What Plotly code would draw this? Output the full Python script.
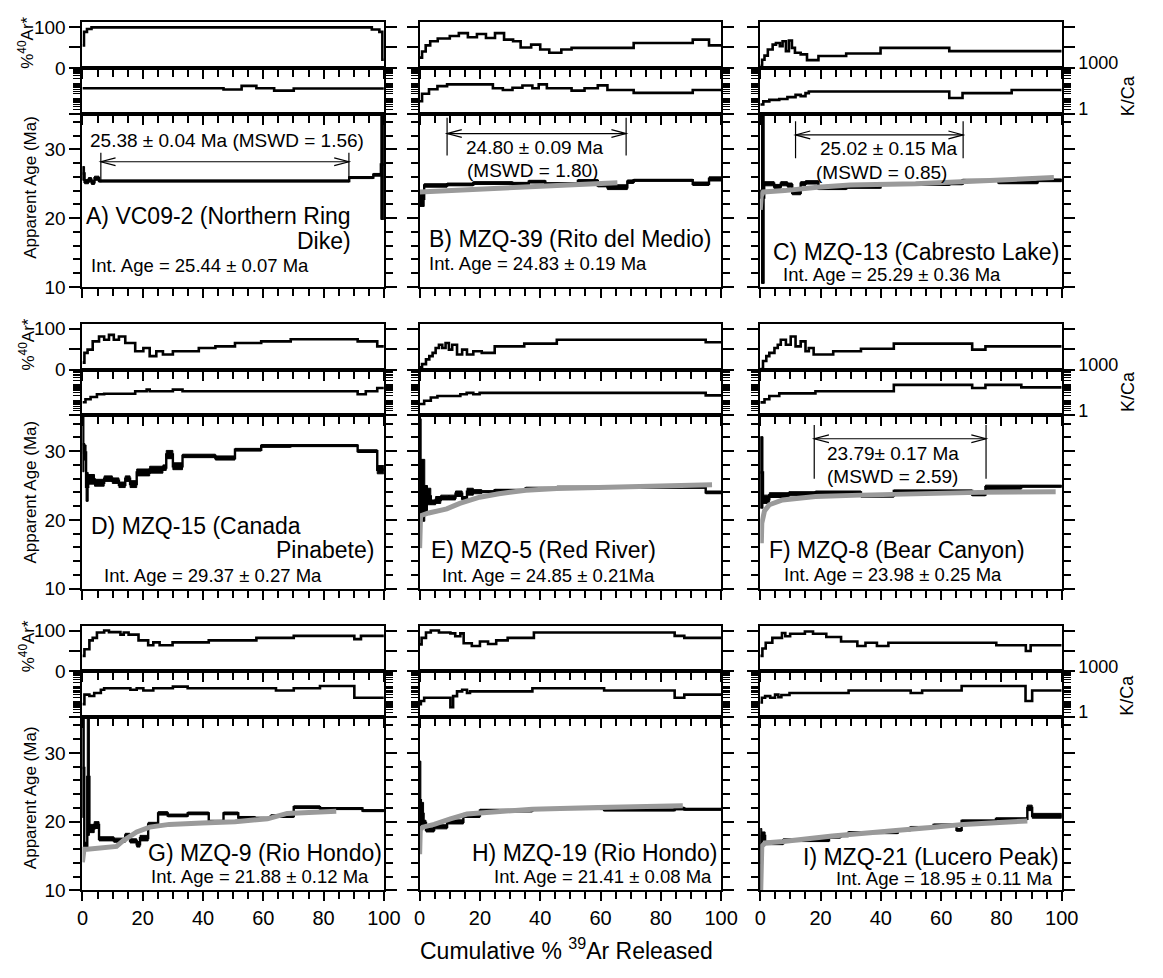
import plotly.graph_objects as go

# ---------------- data ----------------
# each spectrum: cumulative %39Ar at the END of each step, and step values
A_ar_end = [0.5, 1.5, 3, 96, 98.5, 99.5, 100]
A_ar_val = [55, 88, 95, 99, 94, 88, 20]
A_kca_end = [46.8, 52.8, 57.7, 63.6, 70.1, 100]
A_kca_val = [46, 38, 66, 46, 32, 44]
A_age_end = [0.7, 2, 3, 4, 5.5, 88.5, 96.5, 99, 100]
A_age_val = [26.5, 25.3, 25.6, 25.2, 25.8, 25.4, 25.9, 26.3, 27.8]
A_age_err = [1.0, 0.3, 0.3, 0.3, 0.3, 0.15, 0.15, 0.2, 8.0]
A_gray_x, A_gray_y = [], []
A_plateau = [6.1, 88.4, 28.2, 25.2, 29.5]   # x from, x to, arrow age, line low, line high

B_ar_end = [0.8, 2, 3.5, 6, 10, 13, 16, 19, 22, 25, 28, 31, 33.5, 37, 40, 43, 47, 50.4, 71, 90.6, 96, 100]
B_ar_val = [25, 40, 55, 65, 72, 78, 85, 75, 83, 73, 85, 69, 65, 50, 57, 45, 37, 45, 49, 61, 69, 55]
B_kca_end = [0.8, 3.1, 5.9, 9.1, 24.3, 27.6, 30.8, 34.1, 37.4, 39.5, 42.2, 50.4, 54.7, 59.1, 62.3, 71, 90.6, 100]
B_kca_val = [6.5, 20, 40, 63, 83, 46, 35, 50, 69, 46, 83, 46, 32, 46, 71, 35, 23, 35]
B_age_end = [1.5, 9.1, 17.8, 30.8, 36.2, 41.7, 52.5, 59.1, 62.3, 68.9, 71.0, 90.6, 96, 100]
B_age_val = [22.8, 24.75, 24.9, 25.1, 25.0, 25.3, 25.0, 25.4, 24.75, 24.5, 25.3, 25.5, 25.0, 25.7]
B_age_err = [1.1, 0.25, 0.2, 0.2, 0.2, 0.2, 0.15, 0.2, 0.2, 0.35, 0.25, 0.15, 0.25, 0.3]
B_gray_x = [0, 10, 20, 30, 40, 50, 60, 65.6]
B_gray_y = [23.8, 24.0, 24.2, 24.45, 24.65, 24.85, 25.05, 25.15]
B_plateau = [9.1, 68.5, 32.3, 29.1, 34.6]

C_ar_end = [0.6, 1.4, 2.5, 4.1, 5.2, 6.5, 7.4, 8.5, 9.5, 10.5, 11.5, 13.4, 15.5, 19.3, 28.5, 39.9, 62.7, 100]
C_ar_val = [5, 20, 30, 45, 57, 61, 53, 65, 41, 67, 49, 37, 33, 19, 29, 35, 49, 41]
C_kca_end = [1.0, 3.0, 6.3, 9.0, 11.7, 13.4, 15, 16.1, 62.7, 67.1, 83.4, 100]
C_kca_val = [4.0, 6.3, 7.9, 9.1, 12, 17, 14, 22, 28, 10.5, 22, 35]
C_age_end = [0.4, 1.3, 4.6, 6.8, 9.0, 10.6, 13.4, 15.0, 19.3, 28.5, 39.9, 62.7, 67.1, 79, 92, 100]
C_age_val = [23.5, 23.0, 25.0, 24.6, 25.0, 24.8, 23.7, 25.0, 25.2, 24.3, 24.5, 24.9, 25.0, 25.5, 25.2, 25.5]
C_age_err = [0.6, 12.5, 0.3, 0.3, 0.3, 0.3, 0.3, 0.3, 0.25, 0.15, 0.15, 0.15, 0.15, 0.15, 0.2, 0.2]
C_gray_x = [0, 0.3, 1, 8.1, 18.9, 29.8, 51.5, 73.2, 92.4, 97.4]
C_gray_y = [21.2, 23.2, 23.8, 24.0, 24.5, 24.8, 25.0, 25.4, 25.9, 25.9]
C_plateau = [11.7, 67.3, 32.1, 28.7, 34.1]

D_ar_end = [0.65, 1.7, 3.4, 5.5, 7.2, 8.8, 10.4, 12.1, 14.2, 17.5, 20.2, 22.3, 24.5, 26.7, 30, 38.6, 44.1, 50.6, 59.3, 69.1, 91.3, 97.8, 100]
D_ar_val = [17, 41, 49, 69, 81, 73, 85, 73, 81, 65, 45, 53, 33, 45, 37, 45, 53, 57, 65, 69, 74.5, 69, 57]
D_kca_end = [1.0, 2.7, 4.8, 7.2, 17.5, 21.3, 22.3, 30, 33.2, 91.3, 94, 97.8, 100]
D_kca_val = [7.2, 11.5, 16, 24, 26, 38, 49, 38, 49, 38, 24, 38, 62]
D_age_end = [0.5, 1.2, 1.9, 4.0, 7.2, 9.9, 12.1, 14.2, 15.8, 18.0, 22.3, 26.7, 27.8, 30.0, 33.2, 44.1, 50.6, 59.3, 69.1, 91.3, 97.8, 100]
D_age_val = [31.0, 29.8, 24.8, 25.9, 25.4, 26.0, 25.7, 25.1, 26.0, 25.2, 26.9, 27.3, 27.6, 29.5, 27.8, 29.3, 29.0, 30.2, 30.75, 30.8, 30.0, 27.3]
D_age_err = [4.0, 1.1, 2.1, 0.7, 0.5, 0.4, 0.4, 0.4, 0.4, 0.5, 0.5, 0.5, 0.4, 0.6, 0.5, 0.25, 0.3, 0.2, 0.2, 0.15, 0.2, 0.6]
D_gray_x, D_gray_y = [], []
D_plateau = None

E_ar_end = [0.8, 2.1, 3.2, 4.3, 5.3, 6.4, 7.5, 8.6, 9.7, 10.8, 12.4, 14.1, 15.7, 17.8, 20.6, 24.9, 34.7, 45.5, 94.9, 100]
E_ar_val = [5.5, 13.5, 25, 33, 41, 53, 61, 53, 65, 49, 61, 37, 49, 37, 45, 41, 57, 63.5, 73, 67]
E_kca_end = [1.5, 3.7, 5.9, 13.5, 15.6, 17.8, 19.9, 94.9, 100]
E_kca_val = [5.6, 9.1, 14.8, 18.6, 24, 30, 24, 30, 20.4]
E_age_end = [0.5, 1.7, 2.6, 3.7, 5.3, 7.0, 9.7, 11.9, 14.1, 15.7, 17.8, 20.6, 24.9, 35.2, 45.5, 94.9, 100]
E_age_val = [27.3, 24.3, 22.9, 23.4, 22.55, 22.9, 23.25, 23.25, 23.8, 23.1, 24.1, 24.1, 24.1, 24.3, 24.6, 24.75, 24.0]
E_age_err = [7.4, 4.5, 2.1, 1.2, 0.35, 0.5, 0.35, 0.35, 0.4, 0.3, 0.5, 0.3, 0.15, 0.15, 0.15, 0.15, 0.2]
E_gray_x = [0, 0.3, 3, 9, 13.3, 19.9, 26.3, 35.2, 45.5, 69.9, 97]
E_gray_y = [15.9, 20.6, 21.0, 21.6, 22.4, 23.3, 23.8, 24.3, 24.55, 24.8, 25.1]
E_plateau = None

F_ar_end = [0.9, 2.0, 3.0, 4.7, 5.8, 6.8, 8.5, 10.1, 11.7, 13.4, 15.0, 16.1, 17.7, 24.2, 33.4, 44.3, 70.3, 74.7, 100]
F_ar_val = [1.6, 21, 33, 41, 53, 61, 73, 61, 81, 57, 69, 45, 53, 37, 45, 51, 63.5, 49, 57]
F_kca_end = [1.4, 3.0, 6.3, 18.3, 44.3, 70.3, 74.7, 86.6, 100]
F_kca_val = [7.1, 11.5, 18.6, 27.5, 38, 100, 62, 100, 68]
F_age_end = [0.9, 3.0, 9.5, 18.3, 33.4, 44.3, 70.3, 74.7, 86.6, 100]
F_age_val = [26.9, 23.0, 23.6, 23.8, 24.0, 23.5, 24.2, 23.7, 24.75, 24.9]
F_age_err = [5.2, 0.6, 0.35, 0.3, 0.2, 0.2, 0.15, 0.2, 0.3, 0.15]
F_gray_x = [0.35, 0.5, 1.4, 3.0, 7.4, 18.3, 33.4, 50.8, 72.5, 98]
F_gray_y = [16.6, 19.5, 21.3, 22.2, 22.9, 23.4, 23.6, 23.8, 24.0, 24.1]
F_plateau = [17.9, 74.9, 31.8, 26.0, 33.8]

G_ar_end = [0.65, 2.3, 3.4, 4.8, 7.2, 8.8, 12.6, 13.7, 15.3, 18.6, 21.8, 23.5, 25.6, 29.9, 41.9, 57.7, 70.1, 90.2, 92.4, 100]
G_ar_val = [38, 54, 76, 82, 95, 100, 96, 90, 95, 90, 76, 64, 71, 64, 71, 76, 82, 87, 79, 87]
G_kca_end = [0.65, 2.3, 3.9, 6.1, 7.2, 15.9, 18.0, 20.2, 23.5, 30, 34.9, 64.2, 70.1, 78.8, 90.2, 100]
G_kca_val = [7.1, 30, 24, 38, 62, 79, 62, 79, 56, 79, 100, 79, 56, 79, 110, 18.6]
G_age_end = [0.6, 1.6, 2.3, 3.9, 5.5, 10.4, 14.2, 15.8, 18.0, 19.1, 21.8, 25.1, 28.3, 34.9, 41.9, 46.8, 51.7, 57.1, 62.5, 70.1, 78.8, 92.9, 100]
G_age_val = [27.8, 16.5, 26.5, 19.0, 19.5, 17.5, 17.3, 18.0, 17.2, 16.7, 17.6, 19.6, 21.2, 20.9, 21.2, 20.0, 21.2, 20.6, 20.5, 20.8, 22.1, 21.9, 21.6]
G_age_err = [7.2, 0.5, 8.5, 0.6, 0.5, 0.3, 0.3, 0.3, 0.3, 0.4, 0.4, 0.3, 0.25, 0.2, 0.2, 0.2, 0.2, 0.15, 0.15, 0.2, 0.2, 0.15, 0.15]
G_gray_x = [0, 0.5, 1.6, 11.3, 13.4, 18, 22.3, 28.8, 39.7, 50.6, 61.4, 67.9, 84.2]
G_gray_y = [14.1, 16.0, 16.0, 16.4, 17.2, 18.5, 19.2, 19.6, 19.8, 20.0, 20.4, 21.2, 21.5]
G_plateau = None

H_ar_end = [0.65, 2.1, 3.7, 6.4, 10.2, 11.8, 13.5, 14.6, 17.3, 20, 22.7, 25.4, 29.2, 37.9, 84.6, 87.8, 100]
H_ar_val = [66, 82, 95, 100, 95, 93, 86, 93, 69, 62, 73, 67, 76, 82, 95, 87, 82]
H_kca_end = [0.4, 1.5, 10.2, 11.1, 12.4, 14.1, 15.7, 16.7, 37.4, 61.2, 84.6, 87.8, 100]
H_kca_val = [7.1, 11.5, 18.6, 4.4, 23.7, 49, 62, 38, 49, 79, 56, 18.6, 30]
H_age_end = [0.4, 1.3, 2.1, 4.8, 9.1, 14.5, 20, 37.4, 61.2, 84.6, 87.8, 100]
H_age_val = [23.1, 21.1, 19.8, 18.8, 19.25, 19.96, 20.9, 21.6, 21.9, 21.7, 21.9, 21.8]
H_age_err = [5.7, 1.7, 0.4, 0.3, 0.3, 0.3, 0.3, 0.2, 0.15, 0.15, 0.2, 0.15]
H_gray_x = [0, 0.2, 1.0, 4.8, 10.2, 15.7, 21.1, 37.4, 59.1, 87.3]
H_gray_y = [15.25, 18.8, 19.2, 19.6, 20.4, 21.1, 21.3, 21.8, 22.05, 22.3]
H_plateau = None

I_ar_end = [0.7, 1.8, 4.0, 7.2, 8.3, 9.9, 14.8, 17.5, 21.9, 26.8, 32.2, 34.9, 38.7, 42.5, 78.3, 88.1, 89.7, 100]
I_ar_val = [38, 56, 70, 82, 94, 86, 92, 97.6, 92, 84, 73, 62, 70, 62, 70, 64, 50, 64]
I_kca_end = [0.5, 1.6, 3.3, 4.9, 6.0, 7.0, 9.7, 29.3, 49.9, 53.7, 66.8, 88, 90.2, 100]
I_kca_val = [9.1, 18.6, 23.7, 18.6, 30, 20, 28, 38, 56, 38, 56, 110, 11.5, 56]
I_age_end = [0.5, 1.6, 7.6, 22.8, 26.6, 29.3, 45.6, 49.9, 57.5, 65.1, 66.8, 78.2, 88.6, 90.2, 100]
I_age_val = [14.0, 17.9, 16.9, 17.3, 17.8, 18.0, 18.4, 18.8, 19.15, 19.5, 18.8, 20.1, 20.4, 22.0, 20.85]
I_age_err = [5.0, 0.6, 0.25, 0.2, 0.2, 0.2, 0.15, 0.15, 0.15, 0.15, 0.2, 0.15, 0.15, 0.4, 0.35]
I_gray_x = [0.1, 0.5, 1.6, 7.6, 23.9, 40.2, 56.5, 67.4, 88.6]
I_gray_y = [9.0, 16.4, 16.9, 17.1, 17.9, 18.45, 19.15, 19.6, 20.1]
I_plateau = None

# texts: (text, x %, age, xanchor, size)
A_text = [("A) VC09-2 (Northern Ring", 0.6, 20.3, "left", 23), ("Dike)", 89.7, 16.7, "right", 23),
          ("Int. Age = 25.44 ± 0.07 Ma", 2.3, 13.1, "left", 18.5),
          ("25.38 ± 0.04 Ma (MSWD = 1.56)", 48.1, 31.3, "center", 19)]
B_text = [("B) MZQ-39 (Rito del Medio)", 2.6, 17.0, "left", 23),
          ("Int. Age = 24.83 ± 0.19 Ma", 2.4, 13.4, "left", 18.5),
          ("24.80 ± 0.09 Ma", 38.4, 30.2, "center", 19), ("(MSWD = 1.80)", 37.3, 26.9, "center", 19)]
C_text = [("C) MZQ-13 (Cabresto Lake)", 3.5, 15.1, "left", 23),
          ("Int. Age = 25.29 ± 0.36 Ma", 7.0, 11.75, "left", 18.5),
          ("25.02 ± 0.15 Ma", 42.6, 30.1, "center", 19), ("(MSWD = 0.85)", 40.3, 26.6, "center", 19)]
D_text = [("D) MZQ-15 (Canada", 2.3, 19.15, "left", 23), ("Pinabete)", 97.3, 15.6, "right", 23),
          ("Int. Age = 29.37 ± 0.27 Ma", 6.6, 11.9, "left", 18.5)]
E_text = [("E) MZQ-5 (Red River)", 3.1, 15.6, "left", 23),
          ("Int. Age = 24.85 ± 0.21Ma", 6.7, 11.9, "left", 18.5)]
F_text = [("F) MZQ-8 (Bear Canyon)", 2.2, 15.6, "left", 23),
          ("Int. Age = 23.98 ± 0.25 Ma", 7.1, 12.1, "left", 18.5),
          ("23.79± 0.17 Ma", 44.1, 29.7, "center", 19), ("(MSWD = 2.59)", 44.0, 26.3, "center", 19)]
G_text = [("G) MZQ-9 (Rio Hondo)", 100, 15.4, "right", 23),
          ("Int. Age = 21.88 ± 0.12 Ma", 95.7, 12.0, "right", 18.5)]
H_text = [("H) MZQ-19 (Rio Hondo)", 99.2, 15.5, "right", 23),
          ("Int. Age = 21.41 ± 0.08 Ma", 97.6, 12.0, "right", 18.5)]
I_text = [("I) MZQ-21 (Lucero Peak)", 99.9, 14.8, "right", 23),
          ("Int. Age = 18.95 ± 0.11 Ma", 97.7, 11.8, "right", 18.5)]

X_TICKS = [0, 20, 40, 60, 80, 100]
AR_TICKS = [0, 100]
AR_MINOR = [50]
KCA_TICKS = [1, 1000]
KCA_MINOR = [m * d for d in (1, 10, 100) for m in range(2, 11)]
AGE_TICKS = [10, 20, 30]

PANELS = [
    (A_ar_end, A_ar_val, A_kca_end, A_kca_val, A_age_end, A_age_val, A_age_err, A_gray_x, A_gray_y, A_plateau, A_text),
    (B_ar_end, B_ar_val, B_kca_end, B_kca_val, B_age_end, B_age_val, B_age_err, B_gray_x, B_gray_y, B_plateau, B_text),
    (C_ar_end, C_ar_val, C_kca_end, C_kca_val, C_age_end, C_age_val, C_age_err, C_gray_x, C_gray_y, C_plateau, C_text),
    (D_ar_end, D_ar_val, D_kca_end, D_kca_val, D_age_end, D_age_val, D_age_err, D_gray_x, D_gray_y, D_plateau, D_text),
    (E_ar_end, E_ar_val, E_kca_end, E_kca_val, E_age_end, E_age_val, E_age_err, E_gray_x, E_gray_y, E_plateau, E_text),
    (F_ar_end, F_ar_val, F_kca_end, F_kca_val, F_age_end, F_age_val, F_age_err, F_gray_x, F_gray_y, F_plateau, F_text),
    (G_ar_end, G_ar_val, G_kca_end, G_kca_val, G_age_end, G_age_val, G_age_err, G_gray_x, G_gray_y, G_plateau, G_text),
    (H_ar_end, H_ar_val, H_kca_end, H_kca_val, H_age_end, H_age_val, H_age_err, H_gray_x, H_gray_y, H_plateau, H_text),
    (I_ar_end, I_ar_val, I_kca_end, I_kca_val, I_age_end, I_age_val, I_age_err, I_gray_x, I_gray_y, I_plateau, I_text),
]

# ---------------- layout geometry (pixels) ----------------
FIG_W, FIG_H = 1163, 978
COL_LEFT = [78, 422, 769.5]
COL_W = 307.5
ROW_STEP = 310
AR_TOP, AR_BOT, KCA_BOT, AGE_BOT = 7.3, 54.3, 101.3, 279.3
AR_RANGE = [0, 112]
KCA_RANGE = [0, 3]
AGE_RANGE = [10, 35.2]
FONT = "Liberation Sans, Arial, Helvetica, sans-serif"
GRAY = "#9a9a9a"


def fx(p):
    return p / FIG_W


def fy(p):
    return 1 - p / FIG_H


def step_xy(ends, vals):
    starts = [0] + list(ends[:-1])
    return starts + [ends[-1]], list(vals) + [vals[-1]]


def box_xy(ends, vals, errs):
    starts = [0] + list(ends[:-1])
    xs, ys = [], []
    for s, e, v, er in zip(starts, ends, vals, errs):
        xs += [s, e, e, s, s, None]
        ys += [v - er, v - er, v + er, v + er, v - er, None]
    return xs, ys


fig = go.Figure()
layout = {}
annotations = []
shapes = []

axis_line = dict(showline=True, linecolor="black", linewidth=2, showgrid=False, zeroline=False,
                 tickcolor="black", tickwidth=1.5, tickfont=dict(family=FONT, size=19, color="black"))

for i, P in enumerate(PANELS):
    (ar_end, ar_val, kca_end, kca_val, age_end, age_val, age_err, gx, gy, plat, texts) = P
    r, c = divmod(i, 3)
    off = r * ROW_STEP
    doms = [(AR_TOP + off, AR_BOT + off), (AR_BOT + off, KCA_BOT + off), (KCA_BOT + off, AGE_BOT + off)]
    nums = [3 * i + 1, 3 * i + 2, 3 * i + 3]
    for k, n in enumerate(nums):
        xa = "xaxis" if n == 1 else f"xaxis{n}"
        ya = "yaxis" if n == 1 else f"yaxis{n}"
        xr = "x" if n == 1 else f"x{n}"
        yr = "y" if n == 1 else f"y{n}"
        top, bot = doms[k]
        layout[xa] = dict(axis_line, domain=[fx(COL_LEFT[c]), fx(COL_LEFT[c] + COL_W)], anchor=yr,
                          range=[0, 100], mirror=True, ticks="outside", tickmode="array",
                          tickvals=X_TICKS, ticklen=9,
                          minor=dict(tickmode="linear", tick0=0, dtick=5, ticks="outside", ticklen=7,
                                     tickwidth=1.5, tickcolor="black"),
                          showticklabels=(k == 2 and r == 2),
                          tickfont=dict(family=FONT, size=20, color="black"))
        ydict = dict(axis_line, domain=[fy(bot), fy(top)], anchor=xr, mirror="ticks",
                     ticks="outside", ticklen=11, tickmode="array")
        if k == 0:
            ydict.update(range=AR_RANGE, tickvals=AR_TICKS, showticklabels=(c == 0),
                         minor=dict(tickmode="array", tickvals=AR_MINOR, ticks="outside", ticklen=11,
                                    tickwidth=1.5, tickcolor="black"))
        elif k == 1:
            ydict.update(type="log", range=KCA_RANGE, tickvals=KCA_TICKS, ticktext=["1", "1000"],
                         showticklabels=(c == 2), side=("right" if c == 2 else "left"),
                         ticklabelshift=-5, tickfont=dict(family=FONT, size=18, color="black"),
                         minor=dict(tickmode="array", tickvals=KCA_MINOR, ticks="outside", ticklen=7,
                                    tickwidth=1, tickcolor="black"))
        else:
            ydict.update(range=AGE_RANGE, tickvals=AGE_TICKS, showticklabels=(c == 0),
                         minor=dict(tickmode="linear", tick0=10, dtick=2, ticks="outside", ticklen=7,
                                    tickwidth=1.5, tickcolor="black"))
        layout[ya] = ydict

    xr_ar, yr_ar = ("x", "y") if nums[0] == 1 else (f"x{nums[0]}", f"y{nums[0]}")
    xr_k, yr_k = f"x{nums[1]}", f"y{nums[1]}"
    xr_a, yr_a = f"x{nums[2]}", f"y{nums[2]}"

    sx, sy = step_xy(ar_end, ar_val)
    fig.add_trace(go.Scatter(x=sx, y=sy, mode="lines", line=dict(color="black", width=2.6, shape="hv"),
                             xaxis=xr_ar, yaxis=yr_ar, hoverinfo="skip"))
    sx, sy = step_xy(kca_end, kca_val)
    fig.add_trace(go.Scatter(x=sx, y=sy, mode="lines", line=dict(color="black", width=2.6, shape="hv"),
                             xaxis=xr_k, yaxis=yr_k, hoverinfo="skip"))
    bx, by = box_xy(age_end, age_val, age_err)
    fig.add_trace(go.Scatter(x=bx, y=by, mode="lines", fill="toself", fillcolor="black",
                             line=dict(color="black", width=1), xaxis=xr_a, yaxis=yr_a, hoverinfo="skip"))
    sx, sy = step_xy(age_end, age_val)
    fig.add_trace(go.Scatter(x=sx, y=sy, mode="lines", line=dict(color="black", width=2.4, shape="hv"),
                             xaxis=xr_a, yaxis=yr_a, hoverinfo="skip"))
    if gx:
        fig.add_trace(go.Scatter(x=gx, y=gy, mode="lines", line=dict(color=GRAY, width=5),
                                 xaxis=xr_a, yaxis=yr_a, hoverinfo="skip"))

    if plat:
        x1, x2, ya_, lo, hi = plat
        dx = 15 / COL_W * 100
        dy = 4 / ((AGE_BOT - KCA_BOT) / (AGE_RANGE[1] - AGE_RANGE[0]))
        ln = dict(color="black", width=1.2)
        for xv in (x1, x2):
            shapes.append(dict(type="line", xref=xr_a, yref=yr_a, x0=xv, x1=xv, y0=lo, y1=hi, line=ln))
        shapes.append(dict(type="line", xref=xr_a, yref=yr_a, x0=x1, x1=x2, y0=ya_, y1=ya_, line=ln))
        shapes.append(dict(type="path", xref=xr_a, yref=yr_a, line=ln,
                           path=f"M {x1+dx} {ya_+dy} L {x1} {ya_} L {x1+dx} {ya_-dy}"))
        shapes.append(dict(type="path", xref=xr_a, yref=yr_a, line=ln,
                           path=f"M {x2-dx} {ya_+dy} L {x2} {ya_} L {x2-dx} {ya_-dy}"))

    for (t, tx, ty, anc, sz) in texts:
        annotations.append(dict(text=t, x=tx, y=ty, xref=xr_a, yref=yr_a, xanchor=anc, yanchor="middle",
                                showarrow=False, font=dict(family=FONT, size=sz, color="black")))

# axis titles
AR_TITLE_Y = [29, 339, 649]
AGE_TITLE_Y = [177, 490, 804]
KCA_TITLE_Y = [83, 387, 699]
for r in range(3):
    annotations.append(dict(text="%<sup>40</sup>Ar*", x=fx(21), y=fy(AR_TITLE_Y[r]), xref="paper", yref="paper",
                            textangle=-90, showarrow=False, xanchor="center", yanchor="middle",
                            font=dict(family=FONT, size=17, color="black")))
    annotations.append(dict(text="Apparent Age (Ma)", x=fx(25), y=fy(AGE_TITLE_Y[r]), xref="paper", yref="paper",
                            textangle=-90, showarrow=False, xanchor="center", yanchor="middle",
                            font=dict(family=FONT, size=17, color="black")))
    annotations.append(dict(text="K/Ca", x=fx(1144), y=fy(KCA_TITLE_Y[r]), xref="paper", yref="paper",
                            textangle=-90, showarrow=False, xanchor="center", yanchor="middle",
                            font=dict(family=FONT, size=18, color="black")))
annotations.append(dict(text="Cumulative % <sup>39</sup>Ar Released", x=fx(572), y=fy(960), xref="paper",
                        yref="paper", showarrow=False, xanchor="center", yanchor="middle",
                        font=dict(family=FONT, size=23, color="black")))

fig.update_layout(width=FIG_W, height=FIG_H, margin=dict(l=0, r=0, t=0, b=0),
                  paper_bgcolor="white", plot_bgcolor="rgba(0,0,0,0)", showlegend=False,
                  annotations=annotations, shapes=shapes, **layout)
fig.write_html("out.html")
